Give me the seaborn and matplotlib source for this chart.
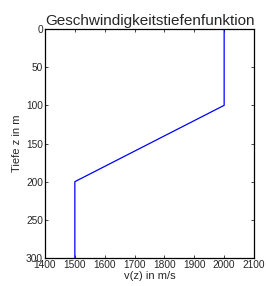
import numpy as np
import pandas as pd
import matplotlib
matplotlib.use('Agg')
import matplotlib.pyplot as plt
import seaborn as sns

# Geschwindigkeits-Tiefen-Profil (Stuetzpunkte)
tiefe = [0, 100, 200, 300]
geschw = [2000, 2000, 1500, 1500]

sns.set_style('white')
plt.rcParams['font.family'] = ['Liberation Sans', 'DejaVu Sans']

df = pd.DataFrame({'v': geschw, 'z': tiefe})

fig = plt.figure(figsize=(2.66, 2.86), dpi=100)
ax = fig.add_axes([45/266, 1 - 258/286, 209/266, 229/286])

sns.lineplot(data=df, x='v', y='z', sort=False, estimator=None,
             color='#0000ff', linewidth=0.9, ax=ax)

ax.set_xlim(1400, 2100)
ax.set_ylim(300, 0)
ax.set_xticks(np.arange(1400, 2101, 100))
ax.set_yticks(np.arange(0, 301, 50))

ax.tick_params(direction='in', length=2, width=0.6, labelsize=7.3,
               top=True, right=True, bottom=True, left=True, pad=1.5)
for s in ax.spines.values():
    s.set_linewidth(0.9)
    s.set_color('black')

ax.set_xlabel('v(z) in m/s', fontsize=8, labelpad=1)
ax.set_ylabel('Tiefe z in m', fontsize=8, labelpad=3)
ax.set_title('Geschwindigkeitstiefenfunktion', fontsize=11, pad=3)

fig.savefig('out.png', dpi=100)
